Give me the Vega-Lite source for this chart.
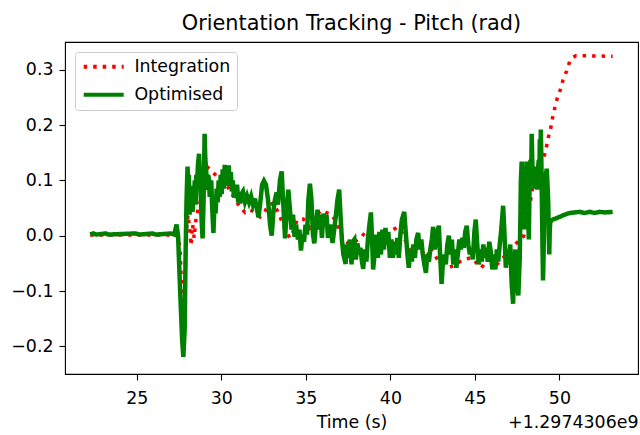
{
  "$schema": "https://vega.github.io/schema/vega-lite/v6.json",
  "width": 573,
  "height": 332,
  "autosize": {"type": "none"},
  "padding": {"left": 65, "top": 42, "right": 2, "bottom": 61},
  "background": "white",
  "title": {
    "text": "Orientation Tracking - Pitch (rad)",
    "font": "DejaVu Sans",
    "fontSize": 20.8,
    "fontWeight": "normal",
    "color": "black",
    "anchor": "middle",
    "baseline": "bottom",
    "offset": 11,
    "dy": 24
  },
  "config": {
    "font": "DejaVu Sans",
    "view": {"stroke": "black", "strokeWidth": 1.1},
    "axis": {
      "domain": false,
      "grid": false,
      "tickColor": "black",
      "tickSize": 6,
      "tickWidth": 1.1,
      "labelColor": "black",
      "labelFont": "DejaVu Sans",
      "labelFontSize": 17.4,
      "labelPadding": 6,
      "titleColor": "black",
      "titleFont": "DejaVu Sans",
      "titleFontSize": 17.4,
      "titleFontWeight": "normal"
    },
    "legend": {
      "orient": "top-left",
      "offset": 10,
      "fillColor": "rgba(255,255,255,0.8)",
      "strokeColor": "#cccccc",
      "cornerRadius": 3,
      "padding": 6,
      "symbolType": "M-1.2,0H6.8",
      "symbolSize": 100,
      "symbolStrokeWidth": 4,
      "labelFont": "DejaVu Sans",
      "labelFontSize": 17.4,
      "labelColor": "black",
      "labelOffset": 36,
      "rowPadding": 9
    }
  },
  "datasets": {
    "integration": [
      {"t": 22.24, "v": 0.001}, {"t": 27.44, "v": 0.001}, {"t": 27.56, "v": -0.025}, {"t": 27.68, "v": -0.116},
      {"t": 27.75, "v": -0.188}, {"t": 27.83, "v": -0.134}, {"t": 27.91, "v": 0.0}, {"t": 28.03, "v": 0.038},
      {"t": 28.12, "v": 0.014}, {"t": 28.21, "v": -0.018}, {"t": 28.3, "v": 0.02}, {"t": 28.39, "v": -0.004},
      {"t": 28.51, "v": 0.033}, {"t": 28.62, "v": 0.047}, {"t": 28.86, "v": 0.074}, {"t": 29.14, "v": 0.125},
      {"t": 29.45, "v": 0.116}, {"t": 29.92, "v": 0.101}, {"t": 30.4, "v": 0.087}, {"t": 30.71, "v": 0.071},
      {"t": 31.11, "v": 0.051}, {"t": 31.4, "v": 0.042}, {"t": 31.64, "v": 0.047}, {"t": 31.89, "v": 0.044},
      {"t": 32.11, "v": 0.04}, {"t": 32.29, "v": 0.034}, {"t": 32.58, "v": 0.044}, {"t": 32.76, "v": 0.054},
      {"t": 33.07, "v": 0.059}, {"t": 33.35, "v": 0.043}, {"t": 33.59, "v": 0.025}, {"t": 33.82, "v": 0.007},
      {"t": 34.06, "v": -0.004}, {"t": 34.3, "v": 0.011}, {"t": 34.49, "v": 0.029}, {"t": 34.85, "v": 0.03},
      {"t": 35.01, "v": 0.025}, {"t": 35.24, "v": 0.014}, {"t": 35.48, "v": 0.025}, {"t": 35.72, "v": 0.04},
      {"t": 35.93, "v": 0.046}, {"t": 36.19, "v": 0.042}, {"t": 36.53, "v": 0.038}, {"t": 36.78, "v": 0.025},
      {"t": 37.02, "v": 0.007}, {"t": 37.25, "v": -0.007}, {"t": 37.51, "v": -0.014}, {"t": 37.84, "v": -0.013},
      {"t": 38.08, "v": -0.007}, {"t": 38.3, "v": -0.002}, {"t": 38.59, "v": 0.009}, {"t": 38.91, "v": 0.002},
      {"t": 39.26, "v": -0.004}, {"t": 39.62, "v": 0.0}, {"t": 39.97, "v": 0.007}, {"t": 40.4, "v": 0.015},
      {"t": 40.66, "v": 0.008}, {"t": 40.92, "v": -0.011}, {"t": 41.25, "v": -0.034}, {"t": 41.51, "v": -0.029},
      {"t": 41.74, "v": -0.025}, {"t": 41.98, "v": -0.033}, {"t": 42.18, "v": -0.039}, {"t": 42.34, "v": -0.022},
      {"t": 42.57, "v": -0.033}, {"t": 42.79, "v": -0.043}, {"t": 43.04, "v": -0.051}, {"t": 43.42, "v": -0.058},
      {"t": 43.75, "v": -0.054}, {"t": 44.11, "v": -0.047}, {"t": 44.46, "v": -0.042}, {"t": 44.8, "v": -0.04},
      {"t": 45.0, "v": -0.046}, {"t": 45.17, "v": -0.052}, {"t": 45.39, "v": -0.058}, {"t": 45.65, "v": -0.047},
      {"t": 45.98, "v": -0.037}, {"t": 46.18, "v": -0.056}, {"t": 46.47, "v": -0.047}, {"t": 46.83, "v": -0.034},
      {"t": 47.18, "v": -0.022}, {"t": 47.54, "v": -0.011}, {"t": 47.89, "v": -0.001}, {"t": 48.07, "v": 0.02},
      {"t": 48.25, "v": 0.056}, {"t": 48.42, "v": 0.087}, {"t": 48.6, "v": 0.125}, {"t": 48.9, "v": 0.134},
      {"t": 49.13, "v": 0.147}, {"t": 49.25, "v": 0.163}, {"t": 49.34, "v": 0.177}, {"t": 49.49, "v": 0.195},
      {"t": 49.59, "v": 0.212}, {"t": 49.72, "v": 0.23}, {"t": 49.86, "v": 0.247}, {"t": 50.06, "v": 0.264},
      {"t": 50.21, "v": 0.281}, {"t": 50.42, "v": 0.297}, {"t": 50.61, "v": 0.315}, {"t": 50.79, "v": 0.322},
      {"t": 50.97, "v": 0.325}, {"t": 51.79, "v": 0.325}, {"t": 53.15, "v": 0.324}
    ],
    "optimised": [
      {"t": 22.24, "v": 0.002}, {"t": 22.42, "v": 0.004}, {"t": 22.6, "v": 0.002}, {"t": 23.17, "v": 0.004},
      {"t": 23.3, "v": 0.002}, {"t": 24.9, "v": 0.004}, {"t": 25.2, "v": 0.002}, {"t": 25.9, "v": 0.004},
      {"t": 26.14, "v": 0.002}, {"t": 27.03, "v": 0.004}, {"t": 27.21, "v": 0.002}, {"t": 27.35, "v": 0.02},
      {"t": 27.44, "v": 0.0}, {"t": 27.56, "v": -0.098}, {"t": 27.68, "v": -0.188}, {"t": 27.75, "v": -0.219},
      {"t": 27.83, "v": -0.17}, {"t": 27.88, "v": -0.043}, {"t": 27.94, "v": 0.065}, {"t": 28.0, "v": 0.125},
      {"t": 28.04, "v": 0.09}, {"t": 28.08, "v": 0.11}, {"t": 28.12, "v": 0.038}, {"t": 28.16, "v": 0.07},
      {"t": 28.21, "v": 0.056}, {"t": 28.25, "v": 0.09}, {"t": 28.3, "v": 0.043}, {"t": 28.34, "v": 0.08},
      {"t": 28.39, "v": 0.074}, {"t": 28.43, "v": 0.1}, {"t": 28.48, "v": 0.056}, {"t": 28.52, "v": 0.11},
      {"t": 28.56, "v": 0.092}, {"t": 28.62, "v": 0.13}, {"t": 28.68, "v": 0.148}, {"t": 28.73, "v": 0.11},
      {"t": 28.77, "v": 0.083}, {"t": 28.83, "v": 0.03}, {"t": 28.89, "v": -0.005}, {"t": 28.95, "v": 0.065},
      {"t": 29.01, "v": 0.184}, {"t": 29.05, "v": 0.14}, {"t": 29.1, "v": 0.119}, {"t": 29.14, "v": 0.09},
      {"t": 29.18, "v": 0.083}, {"t": 29.22, "v": 0.11}, {"t": 29.27, "v": 0.101}, {"t": 29.31, "v": 0.07},
      {"t": 29.36, "v": 0.087}, {"t": 29.4, "v": 0.1}, {"t": 29.45, "v": 0.056}, {"t": 29.49, "v": 0.03},
      {"t": 29.53, "v": 0.005}, {"t": 29.6, "v": 0.06}, {"t": 29.66, "v": 0.04}, {"t": 29.72, "v": 0.085},
      {"t": 29.78, "v": 0.06}, {"t": 29.84, "v": 0.1}, {"t": 29.9, "v": 0.07}, {"t": 29.96, "v": 0.11},
      {"t": 30.02, "v": 0.075}, {"t": 30.08, "v": 0.12}, {"t": 30.14, "v": 0.085}, {"t": 30.2, "v": 0.128},
      {"t": 30.26, "v": 0.09}, {"t": 30.32, "v": 0.125}, {"t": 30.38, "v": 0.095}, {"t": 30.44, "v": 0.127},
      {"t": 30.5, "v": 0.09}, {"t": 30.56, "v": 0.115}, {"t": 30.62, "v": 0.08}, {"t": 30.68, "v": 0.1},
      {"t": 30.74, "v": 0.07}, {"t": 30.8, "v": 0.092}, {"t": 30.86, "v": 0.068}, {"t": 30.93, "v": 0.092},
      {"t": 31.0, "v": 0.06}, {"t": 31.06, "v": 0.078}, {"t": 31.12, "v": 0.058}, {"t": 31.18, "v": 0.075},
      {"t": 31.28, "v": 0.08}, {"t": 31.4, "v": 0.061}, {"t": 31.52, "v": 0.072}, {"t": 31.64, "v": 0.06},
      {"t": 31.76, "v": 0.071}, {"t": 31.87, "v": 0.056}, {"t": 31.99, "v": 0.067}, {"t": 32.11, "v": 0.047},
      {"t": 32.2, "v": 0.033}, {"t": 32.29, "v": 0.056}, {"t": 32.41, "v": 0.092}, {"t": 32.52, "v": 0.099},
      {"t": 32.64, "v": 0.092}, {"t": 32.76, "v": 0.065}, {"t": 32.88, "v": 0.02}, {"t": 32.98, "v": 0.0},
      {"t": 33.09, "v": 0.047}, {"t": 33.17, "v": 0.065}, {"t": 33.27, "v": 0.078}, {"t": 33.35, "v": 0.056},
      {"t": 33.47, "v": 0.101}, {"t": 33.57, "v": 0.116}, {"t": 33.65, "v": 0.065}, {"t": 33.77, "v": -0.005},
      {"t": 33.85, "v": 0.038}, {"t": 33.96, "v": 0.083}, {"t": 34.06, "v": 0.047}, {"t": 34.15, "v": 0.011},
      {"t": 34.24, "v": 0.038}, {"t": 34.33, "v": -0.002}, {"t": 34.42, "v": 0.02}, {"t": 34.53, "v": -0.007},
      {"t": 34.62, "v": 0.011}, {"t": 34.71, "v": -0.027}, {"t": 34.8, "v": 0.002}, {"t": 34.89, "v": -0.011},
      {"t": 34.98, "v": 0.02}, {"t": 35.07, "v": 0.002}, {"t": 35.15, "v": 0.065}, {"t": 35.24, "v": 0.094},
      {"t": 35.33, "v": 0.065}, {"t": 35.42, "v": 0.002}, {"t": 35.5, "v": -0.014}, {"t": 35.6, "v": 0.02},
      {"t": 35.69, "v": 0.047}, {"t": 35.77, "v": 0.011}, {"t": 35.86, "v": 0.038}, {"t": 35.95, "v": -0.004},
      {"t": 36.04, "v": 0.04}, {"t": 36.13, "v": 0.02}, {"t": 36.22, "v": 0.038}, {"t": 36.31, "v": -0.004},
      {"t": 36.43, "v": 0.02}, {"t": 36.58, "v": -0.013}, {"t": 36.69, "v": 0.014}, {"t": 36.78, "v": 0.038},
      {"t": 36.87, "v": 0.065}, {"t": 36.97, "v": 0.083}, {"t": 37.05, "v": 0.038}, {"t": 37.13, "v": -0.007},
      {"t": 37.22, "v": -0.034}, {"t": 37.35, "v": -0.051}, {"t": 37.43, "v": -0.016}, {"t": 37.52, "v": -0.04},
      {"t": 37.61, "v": -0.007}, {"t": 37.7, "v": -0.052}, {"t": 37.78, "v": -0.011}, {"t": 37.87, "v": -0.007},
      {"t": 37.96, "v": -0.043}, {"t": 38.05, "v": -0.014}, {"t": 38.14, "v": -0.034}, {"t": 38.23, "v": -0.022},
      {"t": 38.32, "v": -0.047}, {"t": 38.39, "v": -0.06}, {"t": 38.49, "v": -0.025}, {"t": 38.58, "v": -0.047},
      {"t": 38.67, "v": -0.007}, {"t": 38.76, "v": 0.02}, {"t": 38.85, "v": 0.042}, {"t": 38.92, "v": -0.007},
      {"t": 38.98, "v": -0.061}, {"t": 39.08, "v": -0.029}, {"t": 39.17, "v": 0.002}, {"t": 39.26, "v": -0.04},
      {"t": 39.35, "v": 0.007}, {"t": 39.44, "v": -0.034}, {"t": 39.53, "v": 0.011}, {"t": 39.62, "v": -0.025},
      {"t": 39.71, "v": 0.014}, {"t": 39.79, "v": -0.016}, {"t": 39.88, "v": 0.007}, {"t": 39.97, "v": -0.04},
      {"t": 40.06, "v": -0.007}, {"t": 40.15, "v": -0.04}, {"t": 40.24, "v": -0.011}, {"t": 40.33, "v": -0.034},
      {"t": 40.41, "v": -0.004}, {"t": 40.5, "v": -0.04}, {"t": 40.59, "v": 0.002}, {"t": 40.68, "v": 0.029},
      {"t": 40.82, "v": 0.043}, {"t": 40.92, "v": 0.002}, {"t": 41.01, "v": -0.034}, {"t": 41.09, "v": -0.058},
      {"t": 41.18, "v": -0.025}, {"t": 41.27, "v": -0.047}, {"t": 41.36, "v": -0.016}, {"t": 41.45, "v": -0.04},
      {"t": 41.54, "v": -0.007}, {"t": 41.64, "v": 0.005}, {"t": 41.74, "v": -0.025}, {"t": 41.83, "v": -0.007},
      {"t": 41.92, "v": -0.034}, {"t": 42.01, "v": -0.052}, {"t": 42.1, "v": -0.067}, {"t": 42.19, "v": -0.034},
      {"t": 42.28, "v": -0.047}, {"t": 42.36, "v": -0.025}, {"t": 42.45, "v": -0.007}, {"t": 42.53, "v": 0.016},
      {"t": 42.63, "v": -0.025}, {"t": 42.72, "v": -0.007}, {"t": 42.81, "v": 0.011}, {"t": 42.87, "v": 0.018},
      {"t": 42.94, "v": -0.034}, {"t": 43.03, "v": -0.087}, {"t": 43.1, "v": -0.052}, {"t": 43.19, "v": -0.034},
      {"t": 43.28, "v": -0.052}, {"t": 43.37, "v": -0.016}, {"t": 43.46, "v": 0.0}, {"t": 43.55, "v": -0.034},
      {"t": 43.64, "v": -0.007}, {"t": 43.72, "v": -0.052}, {"t": 43.81, "v": -0.025}, {"t": 43.9, "v": -0.058},
      {"t": 43.99, "v": -0.034}, {"t": 44.08, "v": -0.007}, {"t": 44.17, "v": -0.025}, {"t": 44.26, "v": -0.004},
      {"t": 44.34, "v": -0.022}, {"t": 44.43, "v": 0.007}, {"t": 44.52, "v": 0.018}, {"t": 44.61, "v": -0.016},
      {"t": 44.7, "v": -0.034}, {"t": 44.79, "v": -0.022}, {"t": 44.88, "v": -0.043}, {"t": 44.97, "v": 0.007},
      {"t": 45.05, "v": 0.029}, {"t": 45.14, "v": -0.016}, {"t": 45.23, "v": -0.052}, {"t": 45.32, "v": -0.025},
      {"t": 45.41, "v": -0.047}, {"t": 45.5, "v": -0.016}, {"t": 45.59, "v": -0.04}, {"t": 45.67, "v": -0.022},
      {"t": 45.76, "v": -0.047}, {"t": 45.85, "v": -0.011}, {"t": 45.94, "v": -0.029}, {"t": 46.03, "v": -0.061},
      {"t": 46.12, "v": -0.034}, {"t": 46.21, "v": -0.061}, {"t": 46.3, "v": -0.025}, {"t": 46.38, "v": -0.047},
      {"t": 46.47, "v": -0.016}, {"t": 46.56, "v": 0.011}, {"t": 46.67, "v": 0.054}, {"t": 46.74, "v": 0.011},
      {"t": 46.83, "v": -0.058}, {"t": 46.92, "v": -0.025}, {"t": 47.0, "v": -0.052}, {"t": 47.09, "v": -0.016},
      {"t": 47.18, "v": -0.089}, {"t": 47.26, "v": -0.123}, {"t": 47.33, "v": -0.052}, {"t": 47.39, "v": -0.025},
      {"t": 47.48, "v": -0.08}, {"t": 47.57, "v": -0.108}, {"t": 47.65, "v": -0.043}, {"t": 47.69, "v": 0.03},
      {"t": 47.72, "v": 0.1}, {"t": 47.77, "v": 0.134}, {"t": 47.8, "v": 0.06}, {"t": 47.83, "v": 0.12},
      {"t": 47.86, "v": 0.04}, {"t": 47.89, "v": 0.1}, {"t": 47.92, "v": 0.011}, {"t": 47.95, "v": 0.09},
      {"t": 47.98, "v": 0.125}, {"t": 48.02, "v": 0.06}, {"t": 48.05, "v": 0.134}, {"t": 48.09, "v": 0.07},
      {"t": 48.13, "v": 0.11}, {"t": 48.16, "v": 0.03}, {"t": 48.19, "v": -0.007}, {"t": 48.22, "v": 0.06},
      {"t": 48.25, "v": 0.11}, {"t": 48.29, "v": 0.137}, {"t": 48.33, "v": 0.1}, {"t": 48.36, "v": 0.184},
      {"t": 48.4, "v": 0.13}, {"t": 48.44, "v": 0.09}, {"t": 48.48, "v": 0.125}, {"t": 48.52, "v": 0.085},
      {"t": 48.56, "v": 0.12}, {"t": 48.6, "v": 0.09}, {"t": 48.64, "v": 0.125}, {"t": 48.69, "v": 0.083},
      {"t": 48.73, "v": 0.12}, {"t": 48.78, "v": 0.137}, {"t": 48.81, "v": 0.1}, {"t": 48.84, "v": 0.174},
      {"t": 48.87, "v": 0.11}, {"t": 48.9, "v": 0.192}, {"t": 48.94, "v": 0.12}, {"t": 48.97, "v": 0.05},
      {"t": 49.0, "v": -0.02}, {"t": 49.03, "v": -0.081}, {"t": 49.06, "v": -0.04}, {"t": 49.09, "v": 0.02},
      {"t": 49.12, "v": 0.08}, {"t": 49.16, "v": 0.06}, {"t": 49.2, "v": 0.11}, {"t": 49.25, "v": 0.121},
      {"t": 49.3, "v": 0.09}, {"t": 49.34, "v": 0.06}, {"t": 49.37, "v": 0.0}, {"t": 49.4, "v": -0.034},
      {"t": 49.43, "v": 0.01}, {"t": 49.46, "v": 0.025}, {"t": 49.6, "v": 0.029}, {"t": 49.78, "v": 0.031},
      {"t": 50.02, "v": 0.034}, {"t": 50.31, "v": 0.038}, {"t": 50.61, "v": 0.041}, {"t": 50.9, "v": 0.042},
      {"t": 51.2, "v": 0.043}, {"t": 51.5, "v": 0.041}, {"t": 51.79, "v": 0.043}, {"t": 52.09, "v": 0.041},
      {"t": 52.38, "v": 0.043}, {"t": 52.68, "v": 0.042}, {"t": 53.15, "v": 0.043}
    ]
  },
  "layer": [
    {
      "data": {"name": "integration"},
      "mark": {"type": "line", "strokeWidth": 3.5, "strokeCap": "butt"},
      "encoding": {
        "x": {
          "field": "t", "type": "quantitative",
          "scale": {"domain": [20.75, 54.65], "nice": false, "zero": false},
          "axis": {"orient": "bottom", "title": "Time (s)", "values": [25, 30, 35, 40, 45, 50], "format": "d",
                   "labelPadding": 9, "titleY": 53, "titleBaseline": "alphabetic"}
        },
        "y": {
          "field": "v", "type": "quantitative",
          "scale": {"domain": [-0.25, 0.35], "nice": false, "zero": false},
          "axis": {"title": null, "values": [-0.2, -0.1, 0, 0.1, 0.2, 0.3], "format": ".1f"}
        },
        "color": {
          "datum": "Integration", "type": "nominal",
          "scale": {"domain": ["Integration", "Optimised"], "range": ["#ff0000", "#008000"]},
          "legend": {"title": null}
        },
        "strokeDash": {
          "datum": "Integration", "type": "nominal",
          "scale": {"domain": ["Integration", "Optimised"], "range": [[3.5, 6], [1, 0]]},
          "legend": {"title": null}
        }
      }
    },
    {
      "data": {"name": "optimised"},
      "mark": {"type": "line", "strokeWidth": 4.5},
      "encoding": {
        "x": {
          "field": "t", "type": "quantitative",
          "scale": {"domain": [20.75, 54.65], "nice": false, "zero": false},
          "axis": {"orient": "bottom", "title": "+1.2974306e9", "labels": false, "ticks": false, "domain": false,
                   "titleAnchor": "end", "titleY": 53, "titleBaseline": "alphabetic"}
        },
        "y": {
          "field": "v", "type": "quantitative",
          "scale": {"domain": [-0.25, 0.35], "nice": false, "zero": false},
          "axis": {"title": null, "values": [-0.2, -0.1, 0, 0.1, 0.2, 0.3], "format": ".1f"}
        },
        "color": {
          "datum": "Optimised", "type": "nominal",
          "scale": {"domain": ["Integration", "Optimised"], "range": ["#ff0000", "#008000"]},
          "legend": {"title": null}
        },
        "strokeDash": {
          "datum": "Optimised", "type": "nominal",
          "scale": {"domain": ["Integration", "Optimised"], "range": [[3.5, 6], [1, 0]]},
          "legend": {"title": null}
        }
      }
    }
  ],
  "resolve": {"axis": {"x": "independent"}}
}
